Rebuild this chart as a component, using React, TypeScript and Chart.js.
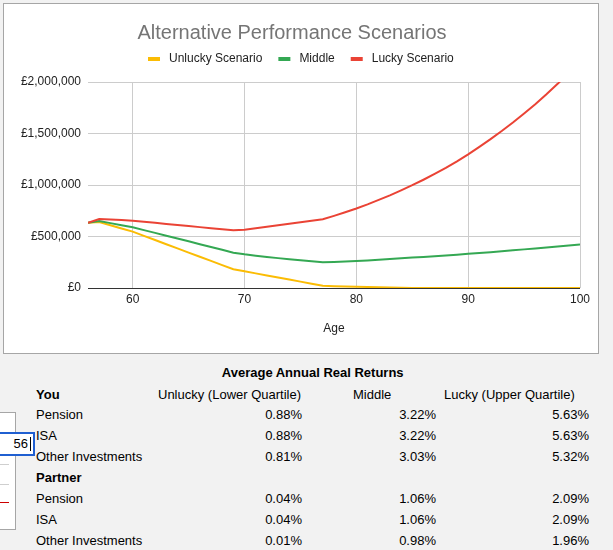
import React, { useEffect, useRef } from 'react';
import { Chart, registerables } from 'chart.js';

Chart.register(...registerables);

const FONT = '"Liberation Sans", Arial, sans-serif';

const ages = [56, 57, 58, 59, 60, 61, 62, 63, 64, 65, 66, 67, 68, 69, 70, 71, 72, 73, 74, 75, 76, 77, 78, 79, 80, 81, 82, 83, 84, 85, 86, 87, 88, 89, 90, 91, 92, 93, 94, 95, 96, 97, 98, 99, 100];

const unlucky = [634000, 641000, 610000, 578000, 547000, 506000, 466000, 425000, 385000, 344000, 303000, 263000, 222000, 182000, 162000, 142000, 122000, 102000, 82000, 62000, 42000, 22000, 18000, 15000, 13000, 10000, 7000, 5000, 3000, 1000, 0, 0, 0, 0, 0, 0, 0, 0, 0, 0, 0, 0, 0, 0, 0];

const middle = [634000, 650000, 630000, 610000, 589000, 562000, 535000, 507000, 480000, 453000, 425000, 398000, 371000, 343000, 327000, 314000, 302000, 290000, 279000, 269000, 259000, 249000, 253000, 257000, 262000, 268000, 274000, 281000, 288000, 295000, 302000, 309000, 316000, 324000, 332000, 340000, 348000, 357000, 366000, 375000, 384000, 393000, 403000, 413000, 423000];

const lucky = [634000, 670000, 665000, 660000, 653000, 643000, 633000, 622000, 612000, 602000, 591000, 581000, 571000, 560000, 566000, 580000, 595000, 609000, 624000, 638000, 652000, 667000, 700000, 735000, 772000, 812000, 855000, 900000, 948000, 998000, 1051000, 1107000, 1166000, 1230000, 1298000, 1370000, 1445000, 1524000, 1607000, 1694000, 1785000, 1881000, 1982000, 2088000, 2200000];

const seriesNames = ['Unlucky Scenario', 'Middle', 'Lucky Scenario'];
const seriesColors = ['#fbbc04', '#34a853', '#ea4335'];

const xTicks = [60, 70, 80, 90, 100];
const yTicks = [0, 500000, 1000000, 1500000, 2000000];

const tableTitle = 'Average Annual Real Returns';
const columnHeaders = ['Unlucky (Lower Quartile)', 'Middle', 'Lucky (Upper Quartile)'];
const groupNames = ['You', 'Partner'];
const rowNames = ['Pension', 'ISA', 'Other Investments'];
const youUnlucky = ['0.88%', '0.88%', '0.81%'];
const youMiddle = ['3.22%', '3.22%', '3.03%'];
const youLucky = ['5.63%', '5.63%', '5.32%'];
const partnerUnlucky = ['0.04%', '0.04%', '0.01%'];
const partnerMiddle = ['1.06%', '1.06%', '0.98%'];
const partnerLucky = ['2.09%', '2.09%', '1.96%'];

const legendPlugin = {
  id: 'customLegend',
  afterDraw(chart: any) {
    const ctx = chart.ctx as CanvasRenderingContext2D;
    ctx.save();
    ctx.font = `12px ${FONT}`;
    const items = chart.data.datasets.map((ds: any) => ({
      label: ds.label as string,
      color: ds.borderColor as string,
      w: ctx.measureText(ds.label).width,
    }));
    const boxW = 12;
    const gap = 9;
    const itemGap = 16;
    const total =
      items.reduce((s: number, it: any) => s + boxW + gap + it.w, 0) + itemGap * (items.length - 1);
    let x = Math.round(chart.width / 2 - total / 2);
    const y = 55;
    for (const it of items) {
      ctx.fillStyle = it.color;
      ctx.fillRect(x, y - 2, boxW, 4);
      x += boxW + gap;
      ctx.fillStyle = '#222222';
      ctx.textBaseline = 'middle';
      ctx.textAlign = 'left';
      ctx.fillText(it.label, x, y);
      x += it.w + itemGap;
    }
    ctx.restore();
  },
};

function Txt(props: { x: number; base: number; text: string; bold?: boolean; align?: 'left' | 'right' | 'center' }) {
  const { x, base, text, bold, align = 'left' } = props;
  const style: React.CSSProperties = {
    position: 'absolute',
    top: base - 12,
    lineHeight: '15px',
    whiteSpace: 'nowrap',
    fontWeight: bold ? 'bold' : 'normal',
  };
  if (align === 'left') {
    style.left = x;
  } else if (align === 'right') {
    style.left = x - 200;
    style.width = 200;
    style.textAlign = 'right';
  } else {
    style.left = x - 200;
    style.width = 400;
    style.textAlign = 'center';
  }
  return <div style={style}>{text}</div>;
}

export default function App() {
  const ref = useRef<HTMLCanvasElement>(null);

  useEffect(() => {
    if (!ref.current) return;
    const values = [unlucky, middle, lucky];
    const chart = new Chart(ref.current, {
      type: 'line',
      data: {
        datasets: values.map((vals, i) => ({
          label: seriesNames[i],
          data: ages.map((a, j) => ({ x: a, y: vals[j] })),
          borderColor: seriesColors[i],
          backgroundColor: seriesColors[i],
          borderWidth: 2,
          pointRadius: 0,
          tension: 0,
          fill: false,
          order: 3 - i,
        })),
      },
      options: {
        animation: false,
        responsive: false,
        events: [],
        layout: { padding: { left: 0, right: 18, top: 0, bottom: 0 } },
        plugins: {
          legend: { display: false },
          tooltip: { enabled: false },
          title: {
            display: true,
            text: 'Alternative Performance Scenarios',
            color: '#757575',
            font: { family: FONT, size: 20, weight: 'normal', lineHeight: 1.2 },
            padding: { top: 17, bottom: 37 },
          },
        },
        scales: {
          x: {
            type: 'linear',
            min: 56,
            max: 100,
            afterBuildTicks: (s: any) => {
              s.ticks = xTicks.map((v) => ({ value: v }));
            },
            afterFit: (s: any) => {
              s.height = 65;
            },
            grid: { color: '#cccccc', drawTicks: false, lineWidth: 1 },
            border: { display: false },
            ticks: {
              color: '#222222',
              font: { family: FONT, size: 12 },
              padding: 4,
              maxRotation: 0,
              autoSkip: false,
            },
            title: {
              display: true,
              text: 'Age',
              color: '#222222',
              font: { family: FONT, size: 12 },
              padding: { top: 0, bottom: 17 },
            },
          },
          y: {
            type: 'linear',
            min: 0,
            max: 2000000,
            afterBuildTicks: (s: any) => {
              s.ticks = yTicks.map((v) => ({ value: v }));
            },
            afterFit: (s: any) => {
              s.width = 84;
            },
            grid: {
              color: (c: any) => (c.tick && c.tick.value === 0 ? '#333333' : '#cccccc'),
              drawTicks: false,
              lineWidth: 1,
            },
            border: { display: false },
            ticks: {
              color: '#222222',
              font: { family: FONT, size: 12 },
              padding: 7,
              callback: (v: any) => '£' + Number(v).toLocaleString('en-GB'),
            },
          },
        },
      } as any,
      plugins: [legendPlugin],
    });
    return () => chart.destroy();
  }, []);

  const rowBases = [399, 419, 440, 461, 482, 503, 524, 545];
  const groups = [
    { name: groupNames[0], u: youUnlucky, m: youMiddle, l: youLucky },
    { name: groupNames[1], u: partnerUnlucky, m: partnerMiddle, l: partnerLucky },
  ];

  const tableItems: React.ReactNode[] = [];
  groups.forEach((g, gi) => {
    const b0 = rowBases[gi * 4];
    tableItems.push(<Txt key={`g${gi}`} x={36} base={b0} text={g.name} bold />);
    if (gi === 0) {
      tableItems.push(<Txt key="h0" x={158} base={b0} text={columnHeaders[0]} />);
      tableItems.push(<Txt key="h1" x={353} base={b0} text={columnHeaders[1]} />);
      tableItems.push(<Txt key="h2" x={444} base={b0} text={columnHeaders[2]} />);
    }
    rowNames.forEach((r, ri) => {
      const b = rowBases[gi * 4 + ri + 1];
      tableItems.push(<Txt key={`r${gi}${ri}`} x={36} base={b} text={r} />);
      tableItems.push(<Txt key={`u${gi}${ri}`} x={302} base={b} text={g.u[ri]} align="right" />);
      tableItems.push(<Txt key={`m${gi}${ri}`} x={436} base={b} text={g.m[ri]} align="right" />);
      tableItems.push(<Txt key={`l${gi}${ri}`} x={589} base={b} text={g.l[ri]} align="right" />);
    });
  });

  return (
    <div
      style={{
        position: 'fixed',
        left: 0,
        top: 0,
        width: '100%',
        height: '100%',
        background: '#f2f2f2',
        fontFamily: FONT,
        fontSize: 13,
        color: '#000',
        overflow: 'hidden',
      }}
    >
      <div
        style={{
          position: 'absolute',
          left: 3,
          top: 3,
          width: 594,
          height: 349,
          border: '1px solid #a6a6a6',
          background: '#ffffff',
        }}
      >
        <canvas ref={ref} width={594} height={349} style={{ display: 'block', width: 594, height: 349 }} />
      </div>

      <div
        style={{
          position: 'absolute',
          left: -10,
          top: 412,
          width: 26,
          height: 118,
          boxSizing: 'border-box',
          border: '1px solid #a6a6a6',
          background: '#ffffff',
        }}
      />
      <div style={{ position: 'absolute', left: 0, top: 464, width: 9, height: 1, background: '#cfcfcf' }} />
      <div style={{ position: 'absolute', left: 0, top: 484, width: 9, height: 1, background: '#cfcfcf' }} />
      <div style={{ position: 'absolute', left: 0, top: 502, width: 9, height: 1, background: '#cc0000' }} />
      <div
        style={{
          position: 'absolute',
          left: -10,
          top: 432,
          width: 45,
          height: 24,
          boxSizing: 'border-box',
          border: '2px solid #1f5fd1',
          background: '#ffffff',
          textAlign: 'right',
          paddingRight: 5,
          lineHeight: '20px',
        }}
      >
        56
      </div>
      <div style={{ position: 'absolute', left: 30, top: 437, width: 1, height: 14, background: '#000' }} />

      <Txt x={312.7} base={377} text={tableTitle} bold align="center" />
      {tableItems}
    </div>
  );
}
